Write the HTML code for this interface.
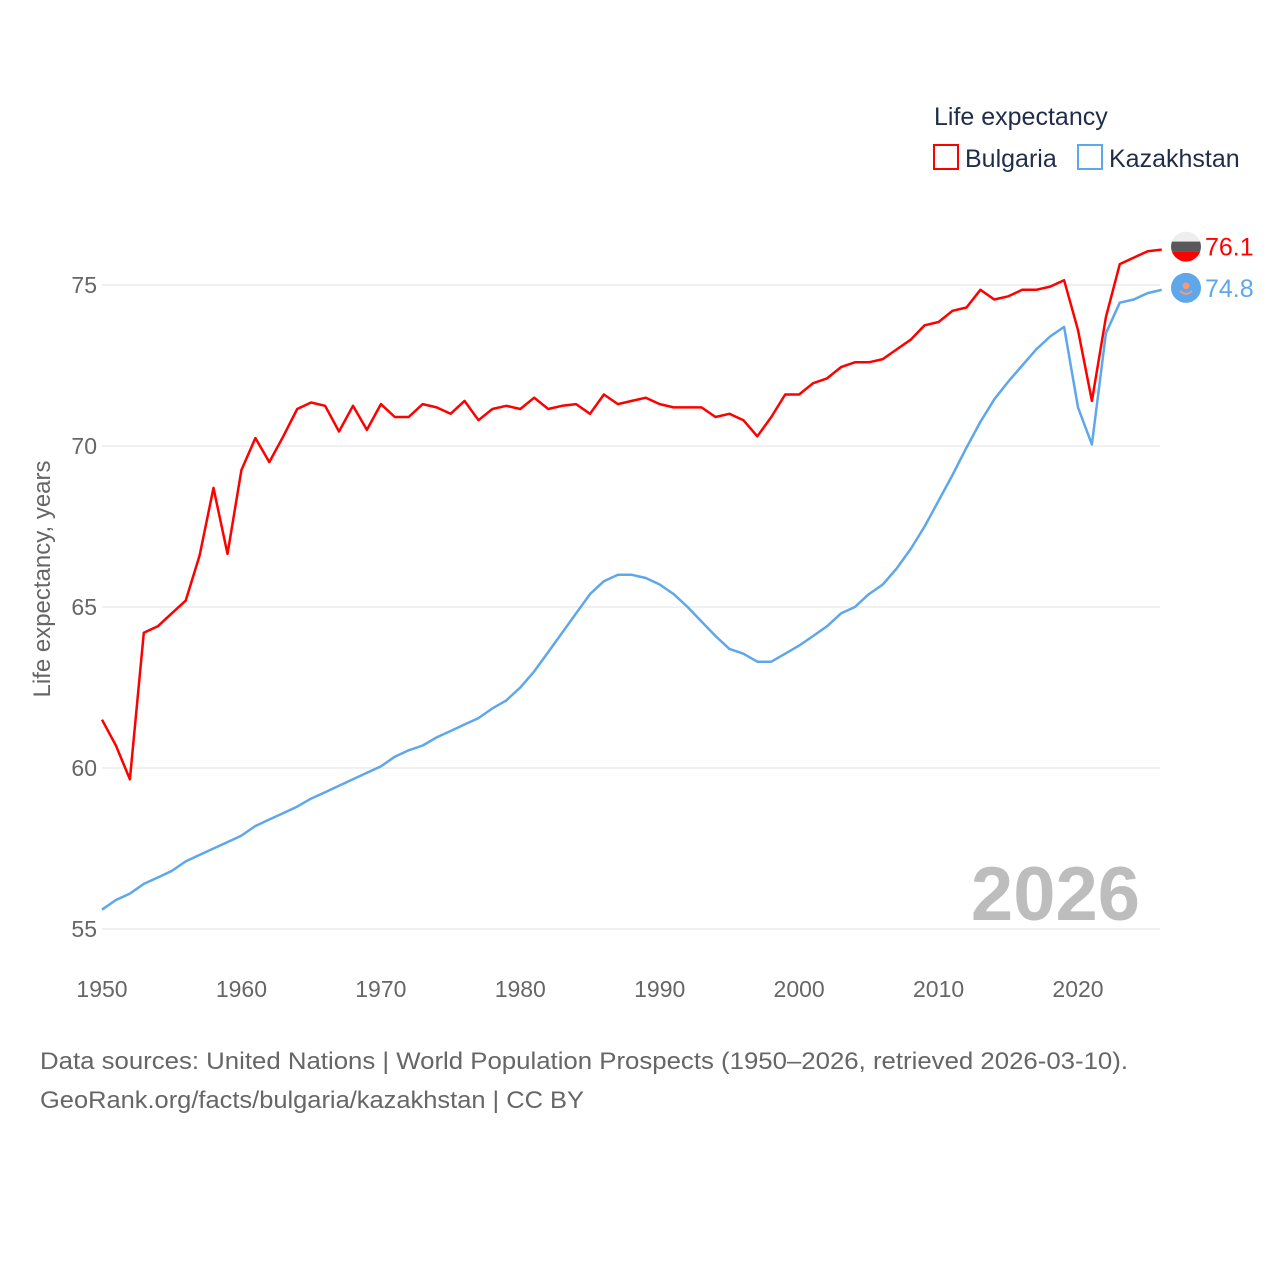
<!DOCTYPE html>
<html><head><meta charset="utf-8"><style>
html,body{margin:0;padding:0;background:#fff;width:1280px;height:1280px;overflow:hidden}
text{font-family:"Liberation Sans",sans-serif}
</style></head><body>
<svg id="chart" width="1280" height="1280" xmlns="http://www.w3.org/2000/svg">
<text x="934" y="125" font-size="25" fill="#1f2d4a">Life expectancy</text>
<g><rect x="934" y="145" width="24" height="24" fill="none" stroke="#ff0000" stroke-width="2"/><text x="965" y="167" font-size="25" fill="#1f2d4a">Bulgaria</text></g>
<g><rect x="1078" y="145" width="24" height="24" fill="none" stroke="#5ea7ea" stroke-width="2"/><text x="1109" y="167" font-size="25" fill="#1f2d4a">Kazakhstan</text></g>
<text transform="translate(50,579) rotate(-90)" text-anchor="middle" font-size="24" fill="#666">Life expectancy, years</text>
<g id="grid"></g><g id="yticks"></g><g id="xticks"></g>
<text x="1140" y="920" text-anchor="end" font-size="76" font-weight="bold" fill="#bdbdbd">2026</text>
<g id="series"></g>
<text x="40" y="1069" font-size="24" fill="#666" textLength="1088" lengthAdjust="spacingAndGlyphs">Data sources: United Nations | World Population Prospects (1950–2026, retrieved 2026-03-10).</text>
<text x="40" y="1108" font-size="24" fill="#666" textLength="544" lengthAdjust="spacingAndGlyphs">GeoRank.org/facts/bulgaria/kazakhstan | CC BY</text>
</svg>
<script>
const years=[];for(let y=1950;y<=2026;y++)years.push(y);
const bulgaria=[61.5,60.7,59.65,64.2,64.4,64.8,65.2,66.6,68.7,66.65,69.25,70.25,69.5,70.3,71.15,71.35,71.25,70.45,71.25,70.5,71.3,70.9,70.9,71.3,71.2,71.0,71.4,70.8,71.15,71.25,71.15,71.5,71.15,71.25,71.3,71.0,71.6,71.3,71.4,71.5,71.3,71.2,71.2,71.2,70.9,71.0,70.8,70.3,70.9,71.6,71.6,71.95,72.1,72.45,72.6,72.6,72.7,73.0,73.3,73.75,73.85,74.2,74.3,74.85,74.55,74.65,74.85,74.85,74.95,75.15,73.6,71.4,74.0,75.65,75.85,76.05,76.1];
const kazakhstan=[55.6,55.9,56.1,56.4,56.6,56.8,57.1,57.3,57.5,57.7,57.9,58.2,58.4,58.6,58.8,59.05,59.25,59.45,59.65,59.85,60.05,60.35,60.55,60.7,60.95,61.15,61.35,61.55,61.85,62.1,62.5,63.0,63.6,64.2,64.8,65.4,65.8,66.0,66.0,65.9,65.7,65.4,65.0,64.55,64.1,63.7,63.55,63.3,63.3,63.55,63.8,64.1,64.4,64.8,65.0,65.4,65.7,66.2,66.8,67.5,68.3,69.1,69.95,70.75,71.45,72.0,72.5,73.0,73.4,73.7,71.2,70.05,73.5,74.45,74.55,74.75,74.85];
const yTicks=[55,60,65,70,75];
const xTicks=[1950,1960,1970,1980,1990,2000,2010,2020];
const X=v=>102+(v-1950)*(1078-102)/70;
const Y=v=>285+(75-v)*32.2;
const NS="http://www.w3.org/2000/svg";
function mk(tag,attrs,parent,txt){const e=document.createElementNS(NS,tag);for(const k in attrs)e.setAttribute(k,attrs[k]);if(txt!==undefined)e.textContent=txt;document.getElementById(parent).appendChild(e);return e;}
yTicks.forEach(t=>{
 const l=mk('line',{x1:102,x2:1160,y1:Y(t),y2:Y(t),stroke:'#ececec','stroke-width':1.5},'grid');
 
 
 const tx=mk('text',{x:97,y:Y(t)+8,'text-anchor':'end','font-size':23,fill:'#666'},'yticks',String(t));
 
 
});
xTicks.forEach(t=>{
 const tx=mk('text',{x:X(t),y:997,'text-anchor':'middle','font-size':23,fill:'#666'},'xticks',String(t));
 
 
});
function line(vals,color,name){
 const d=vals.map((v,i)=>(i?'L':'M')+X(years[i]).toFixed(1)+' '+Y(v).toFixed(1)).join(' ');
 const p=mk('path',{d:d,fill:'none',stroke:color,'stroke-width':2.5,'stroke-linejoin':'round'},'series');
 
 
}
line(bulgaria,'#ff0000','bulgaria');
line(kazakhstan,'#5ea7ea','kazakhstan');
const lb=bulgaria[bulgaria.length-1],lk=kazakhstan[kazakhstan.length-1];
const bx=1186,by=Y(lb)-3;
const g1=mk('g',{},'series');


g1.innerHTML=`<clipPath id="cb"><circle cx="${bx}" cy="${by}" r="15"/></clipPath><g clip-path="url(#cb)"><rect x="${bx-15}" y="${by-15}" width="30" height="10" fill="#eee"/><rect x="${bx-15}" y="${by-5}" width="30" height="10" fill="#595959"/><rect x="${bx-15}" y="${by+5}" width="30" height="11" fill="#ff0000"/></g>`;
const ky=Y(lk)-2;
const g2=mk('g',{},'series');


g2.innerHTML=`<circle cx="${bx}" cy="${ky}" r="15" fill="#5ea7ea"/><circle cx="${bx}" cy="${ky-2}" r="3.5" fill="#f29a7a"/><path d="M${bx-6} ${ky+3} Q${bx} ${ky+9} ${bx+6} ${ky+3}" stroke="#f29a7a" stroke-width="2" fill="none"/>`;
const t1=mk('text',{x:1205,y:by+9,'font-size':25,fill:'#ff0000'},'series',lb.toFixed(1));


const t2=mk('text',{x:1205,y:ky+9,'font-size':25,fill:'#5ea7ea'},'series',lk.toFixed(1));


</script>
</body></html>
